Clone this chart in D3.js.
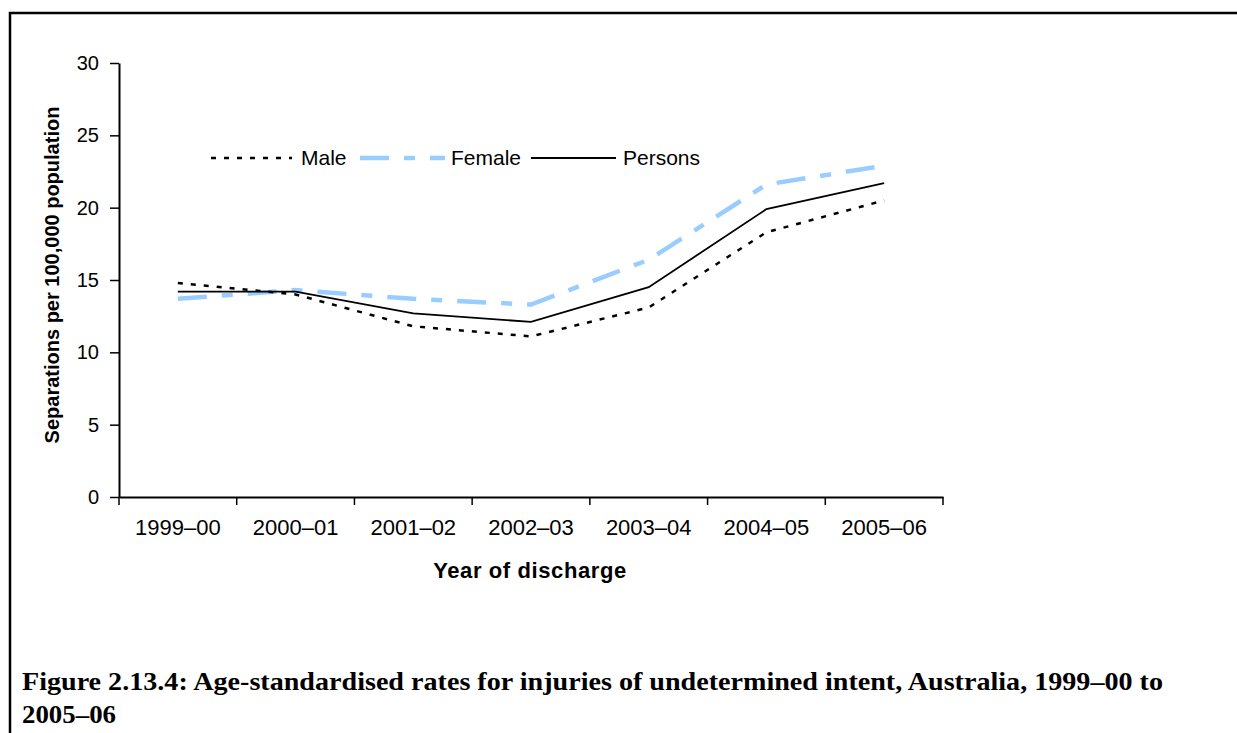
<!DOCTYPE html>
<html>
<head>
<meta charset="utf-8">
<script src="https://cdn.jsdelivr.net/npm/d3@7"></script>
<style>
  body { margin: 0; background: #fff; }
  svg { display: block; }
  .tick text { fill: #000; }
</style>
</head>
<body>
<script>
// chart data
const years = ['1999–00', '2000–01', '2001–02', '2002–03', '2003–04', '2004–05', '2005–06'];
const male = [14.8, 14.0, 11.8, 11.1, 13.1, 18.3, 20.5];
const female = [13.7, 14.3, 13.7, 13.3, 16.4, 21.6, 22.9];
const persons = [14.2, 14.2, 12.7, 12.1, 14.5, 19.9, 21.7];
const yTicks = [0, 5, 10, 15, 20, 25, 30];
const seriesNames = ['Male', 'Female', 'Persons'];

const W = 1237, H = 733;
const plot = { left: 119, right: 943, top: 63, bottom: 497 };

const svg = d3.select('body').append('svg')
    .attr('width', W)
    .attr('height', H);

svg.append('rect').attr('width', W).attr('height', H).attr('fill', '#fff');

// frame round the figure (top + left only are visible)
svg.append('path')
    .attr('d', `M10,${H} L10,13 L${W},13`)
    .attr('fill', 'none')
    .attr('stroke', '#000')
    .attr('stroke-width', 2.5);

const x = d3.scaleBand()
    .domain(years)
    .range([plot.left, plot.right])
    .padding(0);

const y = d3.scaleLinear()
    .domain([0, 30])
    .range([plot.bottom, plot.top]);

// y axis
const yAxis = svg.append('g')
    .attr('transform', `translate(${plot.left},0)`)
    .call(d3.axisLeft(y).tickValues(yTicks).tickSize(9).tickPadding(11).tickSizeOuter(0));
yAxis.select('.domain').attr('stroke-width', 2);
yAxis.selectAll('.tick line').attr('stroke-width', 1.5);
yAxis.selectAll('text')
    .style('font-family', 'Liberation Sans, Arial, sans-serif')
    .style('font-size', '20px');

// x axis: labels centred in the bands, ticks on the band edges
const xAxis = svg.append('g')
    .attr('transform', `translate(0,${plot.bottom})`)
    .call(d3.axisBottom(x).tickSize(0).tickPadding(22).tickSizeOuter(0));
xAxis.select('.domain').attr('stroke-width', 2);
xAxis.selectAll('text')
    .style('font-family', 'Liberation Sans, Arial, sans-serif')
    .style('font-size', '22px');

const edges = years.map(d => x(d)).concat([x.range()[1]]);
xAxis.selectAll('.edge')
    .data(edges)
    .enter().append('line')
    .attr('class', 'edge')
    .attr('x1', d => d).attr('x2', d => d)
    .attr('y1', 0).attr('y2', 8)
    .attr('stroke', '#000')
    .attr('stroke-width', 1.5);

// axis titles
svg.append('text')
    .attr('x', 530)
    .attr('y', 578)
    .attr('text-anchor', 'middle')
    .style('font-family', 'Liberation Sans, Arial, sans-serif')
    .style('font-weight', 'bold')
    .style('font-size', '22px')
    .style('letter-spacing', '0.6px')
    .text('Year of discharge');

svg.append('text')
    .attr('transform', `translate(59,275) rotate(-90)`)
    .attr('text-anchor', 'middle')
    .style('font-family', 'Liberation Sans, Arial, sans-serif')
    .style('font-weight', 'bold')
    .style('font-size', '20px')
    .text('Separations per 100,000 population');

// lines
const styles = {
    Male: { color: '#000', width: 2.5, dash: '5,8' },
    Female: { color: '#99ccff', width: 4.5, dash: '29,15,11,15' },
    Persons: { color: '#000', width: 1.8, dash: null }
};
const seriesData = { Male: male, Female: female, Persons: persons };

const line = d3.line()
    .x((d, i) => x(years[i]) + x.bandwidth() / 2)
    .y(d => y(d));

['Female', 'Male', 'Persons'].forEach(name => {
    svg.append('path')
        .datum(seriesData[name])
        .attr('fill', 'none')
        .attr('stroke', styles[name].color)
        .attr('stroke-width', styles[name].width)
        .attr('stroke-dasharray', styles[name].dash)
        .attr('d', line);
});

// legend
const legendPos = [
    { x1: 211, x2: 292, tx: 301 },
    { x1: 360, x2: 445, tx: 451 },
    { x1: 531, x2: 616, tx: 623 }
];
const legendY = 158;
const legend = svg.append('g');
seriesNames.forEach((name, i) => {
    const p = legendPos[i];
    legend.append('line')
        .attr('x1', p.x1).attr('x2', p.x2)
        .attr('y1', legendY).attr('y2', legendY)
        .attr('stroke', styles[name].color)
        .attr('stroke-width', styles[name].width)
        .attr('stroke-dasharray', styles[name].dash);
    legend.append('text')
        .attr('x', p.tx)
        .attr('y', legendY)
        .attr('dy', '0.35em')
        .style('font-family', 'Liberation Sans, Arial, sans-serif')
        .style('font-size', '21px')
        .text(name);
});

// caption
const caption = svg.append('g')
    .style('font-family', 'Liberation Serif, "Times New Roman", serif')
    .style('font-weight', 'bold')
    .style('font-size', '25px');
caption.append('text')
    .attr('x', 22).attr('y', 690)
    .attr('textLength', 1141)
    .attr('lengthAdjust', 'spacingAndGlyphs')
    .text('Figure 2.13.4: Age-standardised rates for injuries of undetermined intent, Australia, 1999–00 to');
caption.append('text')
    .attr('x', 22).attr('y', 723)
    .attr('textLength', 94)
    .attr('lengthAdjust', 'spacingAndGlyphs')
    .text('2005–06');
</script>
</body>
</html>
